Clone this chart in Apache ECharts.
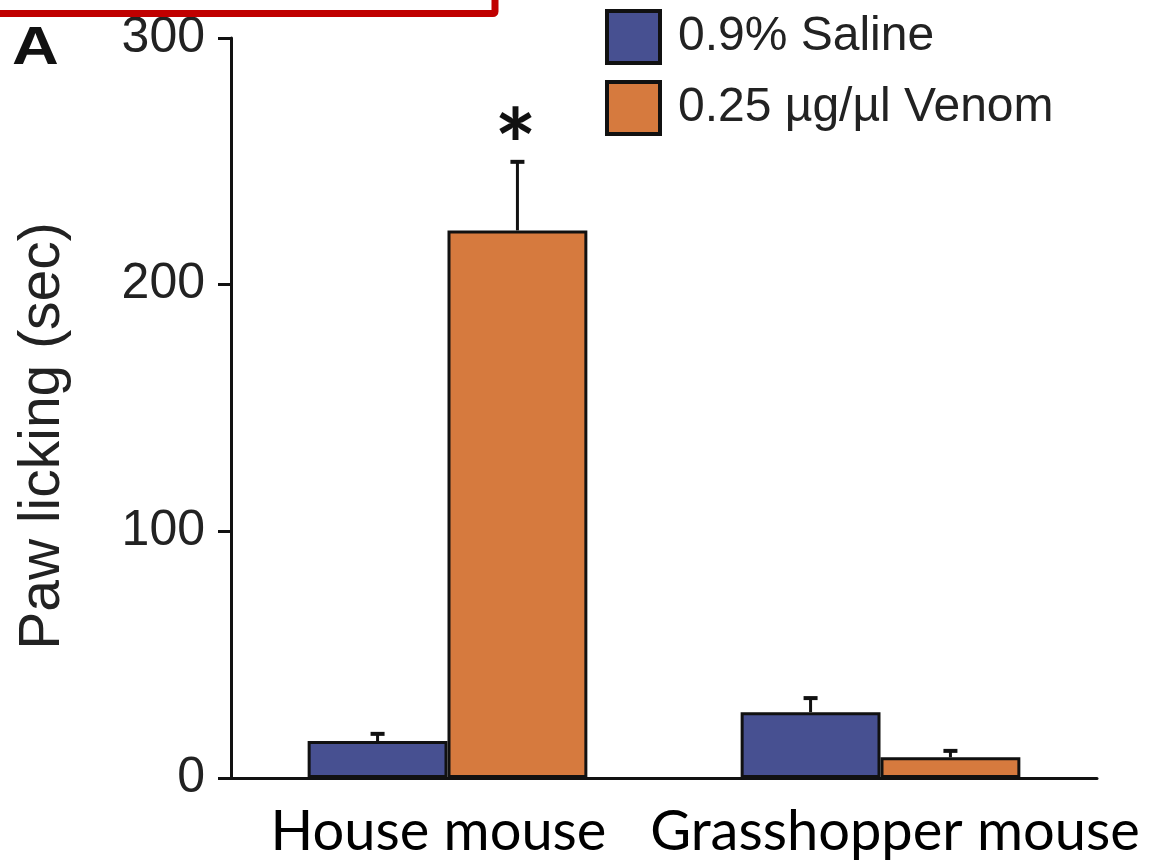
<!DOCTYPE html>
<html>
<head>
<meta charset="utf-8">
<script src="https://cdn.jsdelivr.net/npm/echarts@6/dist/echarts.min.js"></script>
<style>html,body{margin:0;padding:0;background:#fff}#c{width:1151px;height:860px}</style>
</head>
<body>
<div id="c"></div>
<script>
// ---- data ----
const categories = ['House mouse', 'Grasshopper mouse'];
const seriesNames = ['0.9% Saline', '0.25 \u00b5g/\u00b5l Venom'];
const salineMean = [15, 26.7];
const salineSem = [3.3, 6.1];
const venomMean = [222, 8.4];
const venomSem = [28.2, 3.0];
const venomSignif = ['*', ''];
const yTicks = [0, 100, 200, 300];

const BAR_PCT = 0.323;
const chart = echarts.init(document.getElementById('c'));

function errSeries(means, sems, side, marks) {
  return {
    type: 'custom',
    z: 5,
    silent: true,
    data: means.map((m, i) => [i, m, m + sems[i], marks ? marks[i] : '']),
    renderItem: function (params, api) {
      const band = api.size([1, 0])[0];
      const bw = band * BAR_PCT;
      const x0 = api.coord([api.value(0), api.value(1)]);
      const x1 = api.coord([api.value(0), api.value(2)]);
      const cx = x0[0] + side * bw / 2;
      const children = [
        { type: 'line', shape: { x1: cx, y1: x0[1], x2: cx, y2: x1[1] }, style: { stroke: '#111', lineWidth: 3 } },
        { type: 'line', shape: { x1: cx - 7, y1: x1[1] + 1, x2: cx + 7, y2: x1[1] + 1 }, style: { stroke: '#111', lineWidth: 4 } }
      ];
      const mark = api.value(3);
      if (mark && mark !== '') {
        children.push({
          type: 'text',
          style: { text: mark, x: cx - 2, y: x1[1] - 11, align: 'center', verticalAlign: 'middle',
                   font: 'bold 100px Lato, "Open Sans", sans-serif', fill: '#111' }
        });
      }
      return { type: 'group', children: children };
    }
  };
}

const option = {
  animation: false,
  backgroundColor: '#fff',
  grid: { left: 231, right: 54, top: 38, bottom: 82, containLabel: false },
  legend: {
    orient: 'vertical',
    left: 600, top: 4,
    itemWidth: 53, itemHeight: 52, itemGap: 15,
    icon: 'rect',
    itemStyle: { borderColor: '#111', borderWidth: 4 },
    textStyle: { fontFamily: '"Liberation Sans", Arial, sans-serif', fontSize: 48, color: '#222', padding: [6, 0, 0, 13] },
    data: [seriesNames[0], seriesNames[1]]
  },
  xAxis: {
    type: 'category',
    data: categories,
    axisLine: { lineStyle: { color: '#111', width: 3 } },
    axisTick: { show: false },
    axisLabel: {
      margin: 26,
      formatter: function (v, i) { return i === 0 ? '{a|' + v + '}' : '{b|' + v + '}'; },
      rich: {
        a: { fontFamily: 'Lato, "Open Sans", sans-serif', fontSize: 56, color: '#000', padding: [0, 18, 0, 0] },
        b: { fontFamily: 'Lato, "Open Sans", sans-serif', fontSize: 56, color: '#000', padding: [0, 0, 0, 29] }
      }
    }
  },
  yAxis: {
    type: 'value',
    min: yTicks[0], max: yTicks[yTicks.length - 1], interval: 100,
    name: 'Paw licking (sec)',
    nameLocation: 'middle',
    nameGap: 159,
    nameTextStyle: { fontFamily: '"Liberation Sans", Arial, sans-serif', fontSize: 57, color: '#222', padding: [0, 56, 0, 0] },
    axisLine: { show: true, lineStyle: { color: '#111', width: 3 } },
    axisTick: { show: true, length: 13, lineStyle: { color: '#111', width: 3 } },
    axisLabel: { margin: 26, fontFamily: '"Liberation Sans", Arial, sans-serif', fontSize: 50, color: '#222' },
    splitLine: { show: false }
  },
  graphic: [
    { type: 'rect', shape: { x: -20, y: -20, width: 515, height: 33.5, r: 2 },
      style: { fill: 'none', stroke: '#C00000', lineWidth: 7 }, z: 10 },
    { type: 'text', x: 12, y: 22, scaleX: 1.2,
      style: { text: 'A', font: 'bold 54px "Liberation Sans", Arial, sans-serif', fill: '#111' } }
  ],
  series: [
    { name: seriesNames[0], type: 'bar', data: salineMean, barWidth: (BAR_PCT * 100) + '%', barGap: '0%',
      itemStyle: { color: '#475091', borderColor: '#111', borderWidth: 3 } },
    { name: seriesNames[1], type: 'bar', data: venomMean, barWidth: (BAR_PCT * 100) + '%', barGap: '0%',
      itemStyle: { color: '#D67A3E', borderColor: '#111', borderWidth: 3 } },
    errSeries(salineMean, salineSem, -1, null),
    errSeries(venomMean, venomSem, 1, venomSignif)
  ]
};
chart.setOption(option);
</script>
</body>
</html>
